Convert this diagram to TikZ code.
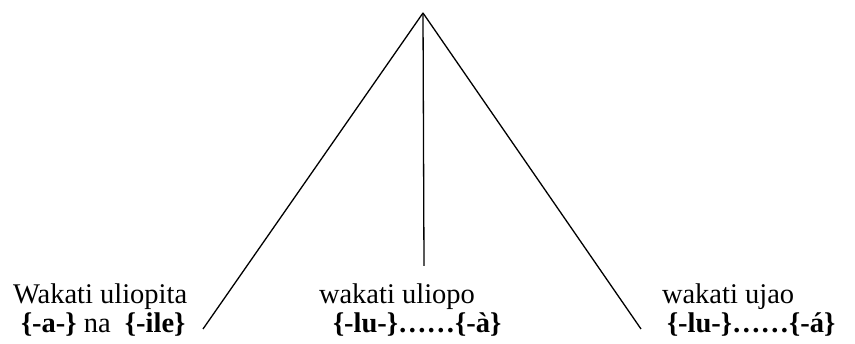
\documentclass[tikz,border=0pt]{standalone}
\usepackage{fontspec}
\setmainfont{Liberation Serif}
\usepackage{tikz}
\usetikzlibrary{positioning,calc}

\begin{document}
\begin{tikzpicture}[
    x=1pt,y=1pt,
    font=\rmfamily\fontsize{28.5}{30}\selectfont,
    label/.style={anchor=base west,inner sep=0pt,outer sep=0pt},
    morph/.style={label,font=\rmfamily\fontsize{28.5}{30}\selectfont\bfseries},
    branch/.style={line width=1.3pt,draw=black}
  ]
    \useasboundingbox (0,0) rectangle (855,344);
    \coordinate (top) at (423,331);
    \coordinate (pastend) at (203,15);
    \coordinate (presend) at (424,78);
    \coordinate (futend) at (641,15);

    \node[label] (past) at (13,40) {Wakati uliopita};
    \node[label] (pastm) at (21,11) {\textbf{\{-a-\}} na\ \ \textbf{\{-ile\}}};
    \node[label] (pres) at (319,40) {wakati uliopo};
    \node[morph] (presm) at (333,11) {\{-lu-\}……\{-à\}};
    \node[label] (fut) at (662,40) {wakati ujao};
    \node[morph] (futm) at (667,11) {\{-lu-\}……\{-á\}};

    \draw[branch] (top) -- (pastend);
    \draw[branch] (top) -- (presend);
    \draw[branch] (top) -- (futend);
  \end{tikzpicture}
\end{document}
